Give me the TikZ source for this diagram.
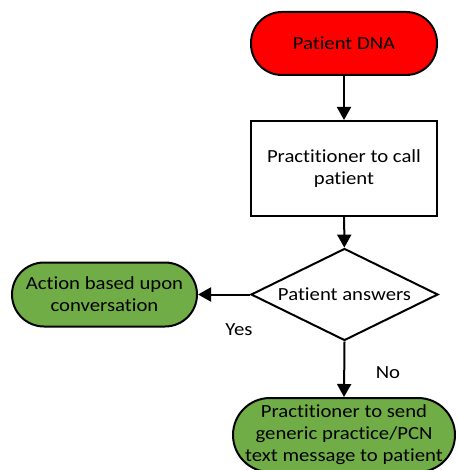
\documentclass[tikz,border=0pt]{standalone}
\usepackage{fontspec}
\setmainfont[FakeStretch=1.12,Ligatures={NoCommon}]{Carlito}
\usetikzlibrary{arrows.meta,shapes.geometric}
\definecolor{termred}{RGB}{255,0,0}
\definecolor{termgreen}{RGB}{112,173,71}
\begin{document}
\begin{tikzpicture}[x=1pt,y=-1pt,
  every node/.style={font=\fontsize{18.5}{22}\selectfont, align=center},
  term/.style={draw=black, line width=2pt, rounded corners=#1, inner sep=0pt},
  procbox/.style={draw=black, line width=2pt, fill=white, inner sep=0pt},
  decision/.style={diamond, draw=black, line width=2pt, fill=white, inner sep=0pt, aspect=2},
  flow/.style={line width=2pt, -{Triangle[length=13pt,width=14pt]}},
  lbl/.style={font=\fontsize{18.5}{22}\selectfont}
]
\useasboundingbox (0,0) rectangle (457,470);
\node[term=31pt, fill=termred, minimum width=186pt, minimum height=63pt] (dna) at (344,43.5) {Patient DNA};
\node[procbox, minimum width=186pt, minimum height=95pt] (call) at (344,168.5) {Practitioner to call\\patient};
\node[decision, minimum width=187pt, minimum height=92pt] (ans) at (344.5,294.5) {Patient answers};
\node[term=32pt, fill=termgreen, minimum width=185pt, minimum height=64pt] (act) at (104.5,294.5) {Action based upon\\conversation};
\node[term=37pt, fill=termgreen, minimum width=222pt, minimum height=74pt] (send) at (344,435) {Practitioner to send\\generic practice/PCN\\text message to patient};
\draw[flow] (dna) -- (call);
\draw[flow] (call) -- (ans);
\draw[flow] (ans.west) -- (act.east);
\draw[flow] (ans.south) -- (send.north);
\node[lbl] (yes) at (239,330) {Yes};
\node[lbl] (no) at (388,373) {No};
\end{tikzpicture}
\end{document}
